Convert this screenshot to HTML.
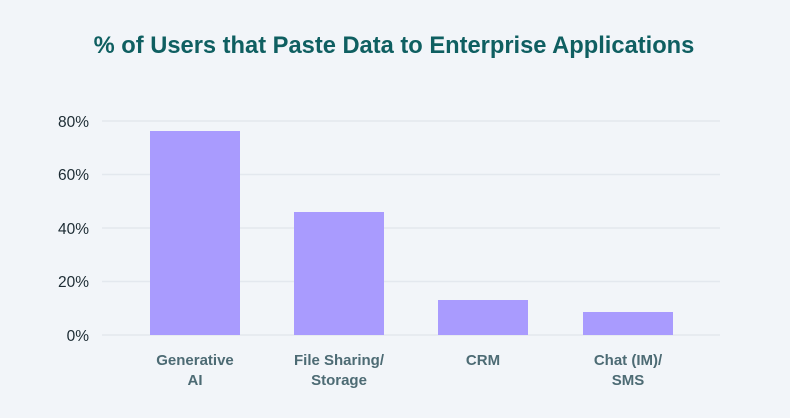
<!DOCTYPE html>
<html><head><style>
body{margin:0;width:790px;height:413px;background:#f2f5f9;overflow:hidden;font-family:"Liberation Sans",sans-serif;}
</style></head><body>
<svg width="790" height="413" xmlns="http://www.w3.org/2000/svg">
<rect width="790" height="413" fill="#f2f5f9"/>
<text x="394" y="53" text-anchor="middle" font-size="23.7" font-weight="bold" fill="#0f5f61" font-family="Liberation Sans, sans-serif">% of Users that Paste Data to Enterprise Applications</text>
<g stroke="#e3e8ee" stroke-width="1.5">
<line x1="102" x2="720" y1="121" y2="121"/>
<line x1="102" x2="720" y1="174.5" y2="174.5"/>
<line x1="102" x2="720" y1="228" y2="228"/>
<line x1="102" x2="720" y1="281.5" y2="281.5"/>
<line x1="102" x2="720" y1="335" y2="335"/>
</g>
<g font-size="15.5" fill="#1c2b33" text-anchor="end" font-family="Liberation Sans, sans-serif">
<text x="89" y="127">80%</text>
<text x="89" y="180">60%</text>
<text x="89" y="234">40%</text>
<text x="89" y="287">20%</text>
<text x="89" y="341">0%</text>
</g>
<g fill="#a99bfe">
<rect x="150" y="131" width="90" height="204"/>
<rect x="294" y="212" width="90" height="123"/>
<rect x="438" y="300" width="90" height="35"/>
<rect x="583" y="312" width="90" height="23"/>
</g>
<g font-size="15" fill="#4d6b74" text-anchor="middle" font-weight="bold" font-family="Liberation Sans, sans-serif">
<text x="195" y="365">Generative</text><text x="195" y="385">AI</text>
<text x="339" y="365">File Sharing/</text><text x="339" y="385">Storage</text>
<text x="483" y="365">CRM</text>
<text x="628" y="365">Chat (IM)/</text><text x="628" y="385">SMS</text>
</g>
</svg>
</body></html>
